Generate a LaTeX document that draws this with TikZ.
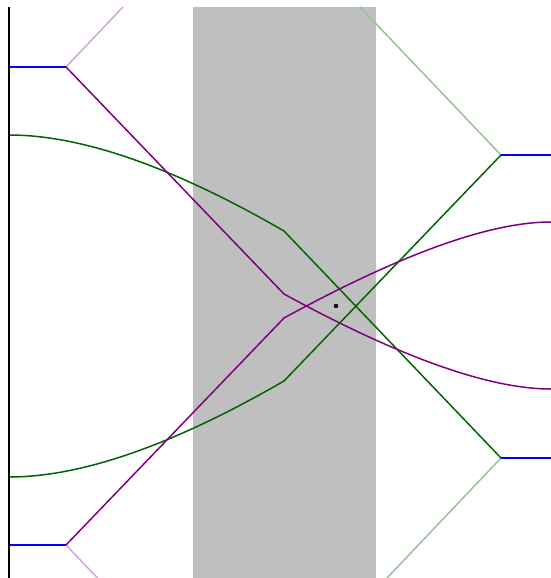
\documentclass[tikz,border=0pt]{standalone}
\definecolor{raypurple}{RGB}{128,0,128}
\definecolor{raygreen}{RGB}{0,100,0}
\definecolor{slab}{RGB}{191,191,191}
\begin{document}
\begin{tikzpicture}[x=1pt,y=-1pt,
  purplray/.style={draw=raypurple,line width=1.5pt,line join=round},
  greenray/.style={draw=raygreen,line width=1.5pt,line join=round},
  faintpurple/.style={draw=raypurple!35,line width=1.5pt},
  faintgreen/.style={draw=raygreen!40,line width=1.5pt},
  bluebar/.style={draw=blue,line width=2pt},
  axisline/.style={draw=black,line width=1.6pt}]
\useasboundingbox (0,0) rectangle (551,578);
\begin{scope}
\clip (0,7) rectangle (551,578);
% slab
\fill[slab] (193,7) rectangle (376,578);
% coordinates
\coordinate (LT) at (66,67);
\coordinate (LB) at (66,545);
\coordinate (RT) at (501,155);
\coordinate (RB) at (501,458);
\coordinate (PT) at (284,294);
\coordinate (PB) at (284,318);
\coordinate (GT) at (284,231);
\coordinate (GB) at (284,381);
% faint rays
\draw[faintpurple] (LT) -- (123,7);
\draw[faintpurple] (LB) -- (97.5,578);
\draw[faintgreen] (RT) -- (360,7);
\draw[faintgreen] (RB) -- (387,578);
% green rays
\draw[greenray] (9,135) .. controls (81.7,135) and (173.3,167) .. (GT) -- (RB);
\draw[greenray] (9,477) .. controls (81.7,477) and (173.3,445) .. (GB) -- (RT);
% purple rays
\draw[purplray] (LT) -- (PT) .. controls (400,357.3) and (489,389) .. (551,389);
\draw[purplray] (LB) -- (PB) .. controls (400,254.7) and (489,222) .. (551,222);
% blue bars
\draw[bluebar] (9,67) -- (LT);
\draw[bluebar] (9,545) -- (LB);
\draw[bluebar] (RT) -- (552,155);
\draw[bluebar] (RB) -- (552,458);
% axis
\draw[axisline] (9,7) -- (9,578);
% centre dot
\fill (336,306) circle (2.2pt);
\end{scope}
\end{tikzpicture}
\end{document}
